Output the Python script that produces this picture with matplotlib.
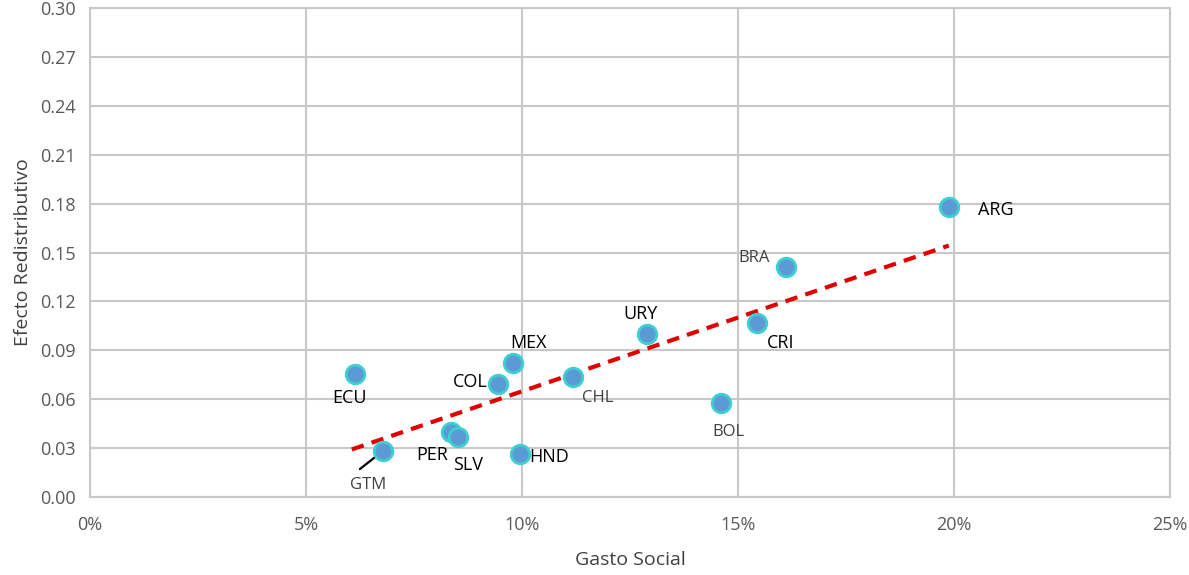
import numpy as np
import matplotlib
matplotlib.use("Agg")
import matplotlib.pyplot as plt
from matplotlib.ticker import PercentFormatter, MultipleLocator

# data
countries = ['ARG', 'BRA', 'CRI', 'URY', 'BOL', 'CHL', 'MEX', 'COL', 'ECU', 'PER', 'SLV', 'HND', 'GTM']
gasto_social = [0.1988, 0.1611, 0.1544, 0.1289, 0.1461, 0.1118, 0.0979, 0.0944, 0.0613, 0.0836, 0.0852, 0.0995, 0.0678]
efecto_redist = [0.178, 0.141, 0.107, 0.100, 0.0577, 0.0736, 0.0822, 0.0693, 0.0755, 0.0399, 0.0368, 0.0264, 0.0282]

# label placement (offset in pixels, colour)
label_style = {
    'ARG': ((47, -3), 'black'),
    'BRA': ((-32, 9), '#404040'),
    'CRI': ((24, -20), 'black'),
    'URY': ((-6, 20), 'black'),
    'BOL': ((7, -29), '#404040'),
    'CHL': ((25, -21), '#404040'),
    'MEX': ((16, 20), 'black'),
    'COL': ((-28, 2), 'black'),
    'ECU': ((-5, -24), 'black'),
    'PER': ((-19, -23), 'black'),
    'SLV': ((10, -28), 'black'),
    'HND': ((29, -3), 'black'),
    'GTM': ((-15, -34), '#404040'),
}

plt.rcParams['font.family'] = ['Open Sans', 'DejaVu Sans']

fig = plt.figure(figsize=(11.89, 5.75), dpi=100)
ax = fig.add_axes([90 / 1189, 1 - 497 / 575, 1080 / 1189, 489 / 575])

x = np.array(gasto_social)
y = np.array(efecto_redist)

# linear trendline
m, b = np.polyfit(x, y, 1)
xt = np.array([x.min() - 0.0007, x.max()])
ax.plot(xt, m * xt + b, color='#E00000', lw=3, ls=(0, (3, 2)), zorder=3)

ax.scatter(x, y, s=180, color='#5B9BD5', edgecolor='#3FCFD0', linewidth=2, zorder=4)

for c, xi, yi in zip(countries, x, y):
    off, col = label_style[c]
    fs = 13 if col == 'black' else 12
    ax.annotate(c, (xi, yi), xytext=off, textcoords='offset pixels',
                ha='center', va='center', color=col, fontsize=fs)
    if c == 'GTM':
        # leader line from the label to the marker
        ax.annotate('', (xi, yi), xytext=(-23, -18), textcoords='offset pixels',
                    arrowprops=dict(arrowstyle='-', color='black', lw=1.6,
                                    shrinkA=0, shrinkB=5))

ax.set_xlim(0, 0.25)
ax.set_ylim(0, 0.30)
ax.xaxis.set_major_locator(MultipleLocator(0.05))
ax.yaxis.set_major_locator(MultipleLocator(0.03))
ax.xaxis.set_major_formatter(PercentFormatter(1.0, decimals=0))
ax.yaxis.set_major_formatter(plt.FuncFormatter(lambda v, p: f'{v:.2f}'))

ax.grid(True, color='#C8C8C8', lw=1.5)
ax.set_axisbelow(True)
for s in ax.spines.values():
    s.set_color('#C8C8C8')
    s.set_linewidth(1.5)
ax.tick_params(length=0, labelsize=13, colors='#595959')
ax.tick_params(axis='x', pad=14)
ax.tick_params(axis='y', pad=10)

ax.set_xlabel('Gasto Social', fontsize=14, color='#404040', labelpad=12)
ax.set_ylabel('Efecto Redistributivo', fontsize=14, color='#404040', labelpad=6)

fig.savefig('out.png', dpi=100)
